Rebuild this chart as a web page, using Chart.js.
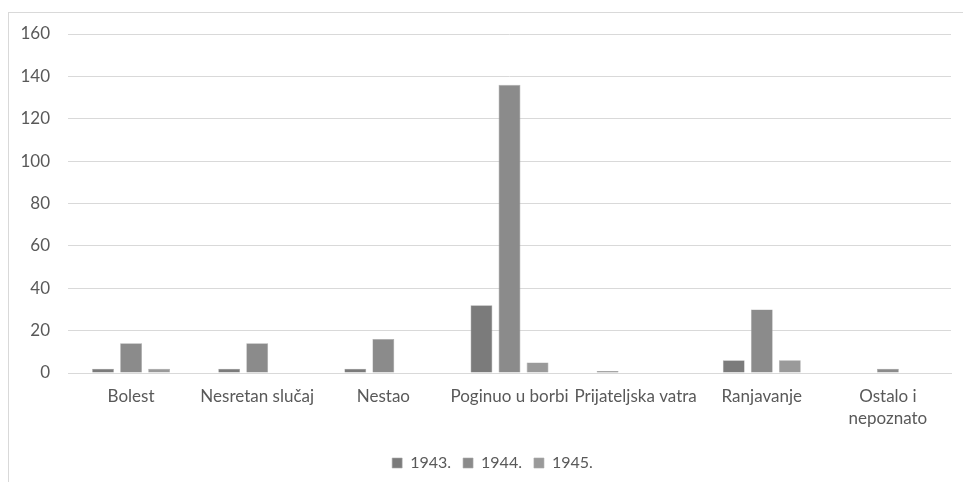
<!DOCTYPE html>
<html>
<head>
<meta charset="utf-8">
<script src="https://cdn.jsdelivr.net/npm/chart.js@4/dist/chart.umd.min.js"></script>
<style>
  html, body { margin: 0; padding: 0; background: #fff; }
  #wrap { position: relative; width: 963px; height: 482px; }
  #frame { position: absolute; left: 8px; top: 12px; right: -2px; bottom: -2px;
           border-left: 1px solid #d9d9d9; border-top: 1px solid #d9d9d9; }
  canvas { position: absolute; left: 0; top: 0; }
</style>
</head>
<body>
<div id="wrap">
  <div id="frame"></div>
  <canvas id="chart" width="963" height="482"></canvas>
</div>
<script>
// ===== Data =====
const categories = [
    "Bolest",
    "Nesretan slučaj",
    "Nestao",
    "Poginuo u borbi",
    "Prijateljska vatra",
    "Ranjavanje",
    ["Ostalo i", "nepoznato"]
];
const years = ["1943.", "1944.", "1945."];
const values1943 = [2, 2, 2, 32, 1, 6, 0];
const values1944 = [14, 14, 16, 136, 0, 30, 2];
const values1945 = [2, 0, 0, 5, 0, 6, 0];
const yTicks = [0, 20, 40, 60, 80, 100, 120, 140, 160];

const colors = ["#7b7b7b", "#8b8b8b", "#9a9a9a"];
const textColor = "#595959";
const fontFamily = "Lato, 'Open Sans', sans-serif";

// legend sits centred under the frame, not the whole canvas
const shiftLegend = {
    id: "shiftLegend",
    afterLayout(chart) {
        chart.legend.left += 34;
    }
};

// ===== Chart =====
new Chart(document.getElementById("chart"), {
    type: "bar",
    data: {
        labels: categories,
        datasets: [values1943, values1944, values1945].map((vals, i) => ({
            label: years[i],
            data: vals,
            backgroundColor: colors[i],
            borderColor: "#a8a8a8",
            borderWidth: 0.6,
            categoryPercentage: 0.667,
            barPercentage: 0.78
        }))
    },
    options: {
        responsive: false,
        animation: false,
        layout: { padding: { left: 0, right: 12, top: 34, bottom: 1 } },
        scales: {
            x: {
                grid: { display: false, drawTicks: false },
                border: { color: "#d9d9d9", width: 1 },
                ticks: {
                    color: textColor,
                    font: { family: fontFamily, size: 17, lineHeight: 1.3 },
                    autoSkip: false,
                    maxRotation: 0,
                    minRotation: 0,
                    padding: 12
                },
                afterFit: (scale) => { scale.height = 70; }
            },
            y: {
                min: 0,
                max: 160,
                afterBuildTicks: (scale) => {
                    scale.ticks = yTicks.map(v => ({ value: v }));
                },
                afterFit: (scale) => { scale.width = 68; },
                grid: { color: "#d9d9d9", lineWidth: 1, drawTicks: false },
                border: { display: false },
                ticks: {
                    color: textColor,
                    font: { family: fontFamily, size: 17 },
                    padding: 18
                }
            }
        },
        plugins: {
            legend: {
                position: "bottom",
                labels: {
                    color: textColor,
                    font: { family: fontFamily, size: 16 },
                    boxWidth: 10,
                    boxHeight: 10,
                    padding: 12
                }
            },
            tooltip: { enabled: false }
        }
    },
    plugins: [shiftLegend]
});
</script>
</body>
</html>
